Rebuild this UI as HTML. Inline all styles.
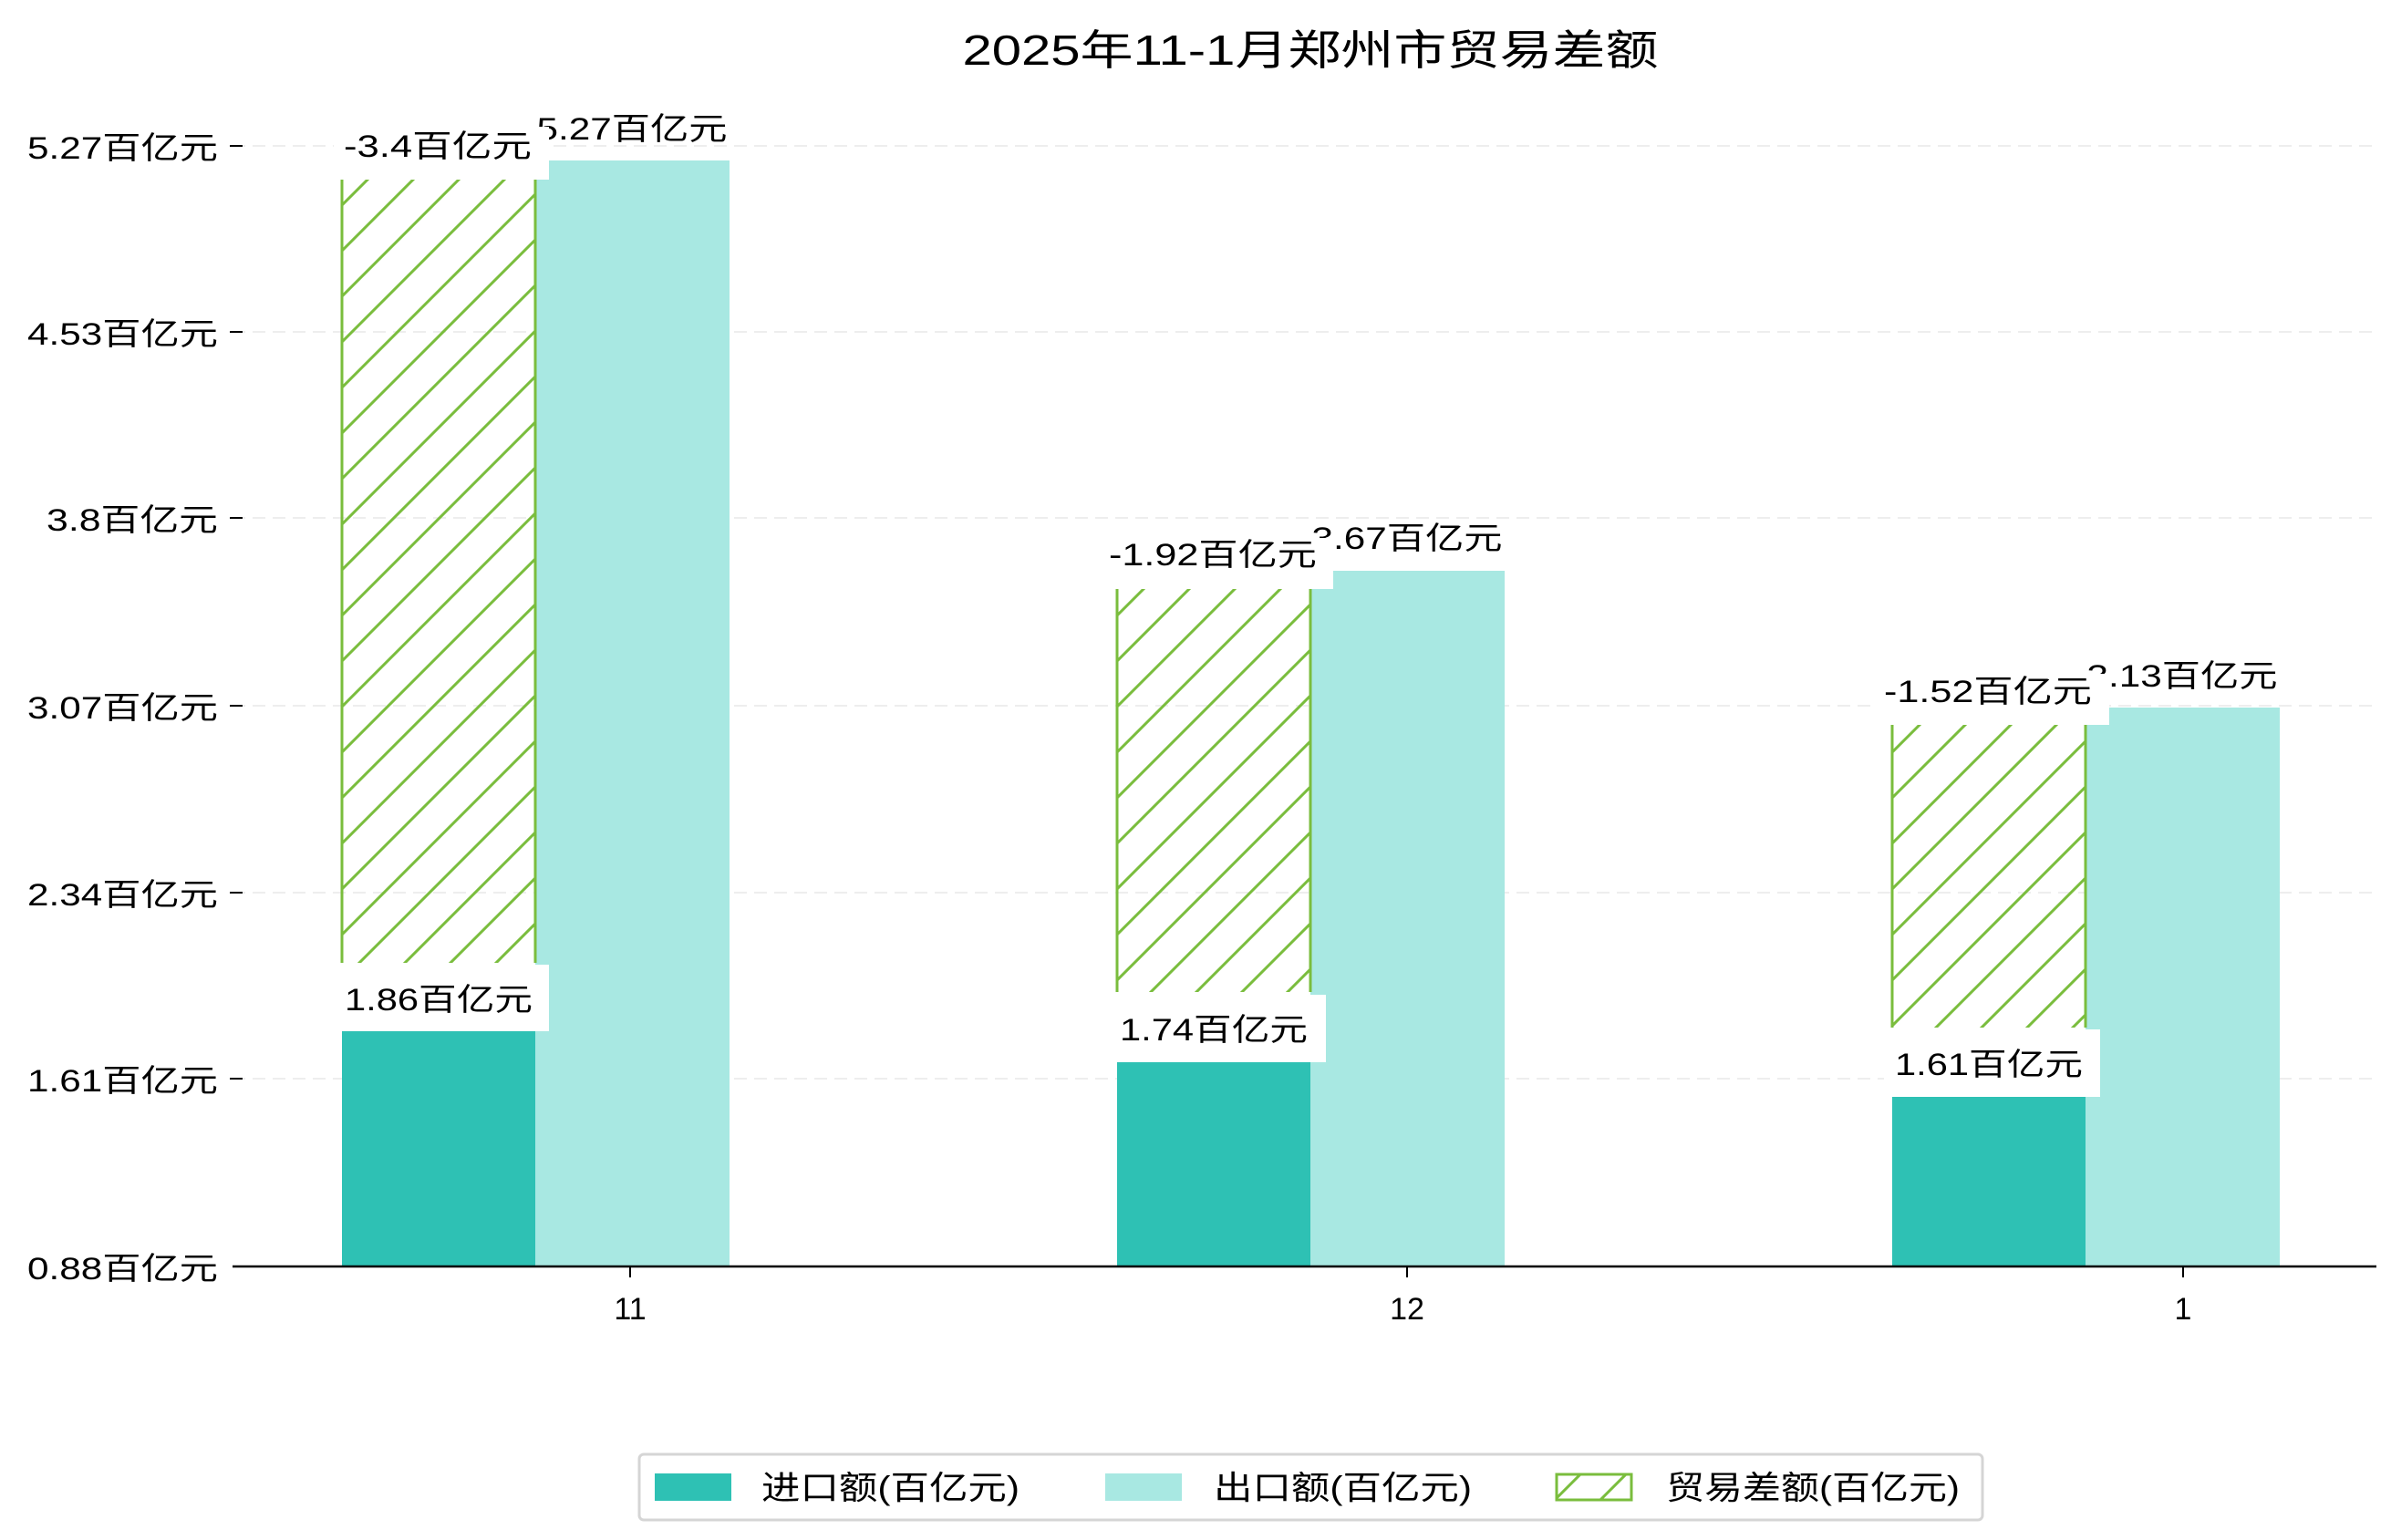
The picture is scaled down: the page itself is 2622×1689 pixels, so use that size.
<!DOCTYPE html>
<html><head><meta charset="utf-8"><style>
html,body{margin:0;padding:0;background:#fff;}
svg{display:block;}
text{font-family:"Liberation Sans","Noto Sans CJK SC",sans-serif;fill:#000;}
</style></head><body>
<svg width="2622" height="1689" viewBox="0 0 2622 1689" xmlns="http://www.w3.org/2000/svg">
<defs>
<pattern id="h" patternUnits="userSpaceOnUse" width="50" height="50">
<line x1="-5" y1="55" x2="55" y2="-5" stroke="#7abd3d" stroke-width="3"/>
<line x1="-30" y1="30" x2="30" y2="-30" stroke="#7abd3d" stroke-width="3"/>
<line x1="20" y1="80" x2="80" y2="20" stroke="#7abd3d" stroke-width="3"/>
</pattern>
</defs>
<text x="1437" y="71" font-size="46" text-anchor="middle" textLength="763" lengthAdjust="spacingAndGlyphs">2025年11-1月郑州市贸易差额</text>
<g stroke="#eeeeee" stroke-width="2" stroke-dasharray="14,8">
<line x1="255" y1="160" x2="2606" y2="160"/>
<line x1="255" y1="364" x2="2606" y2="364"/>
<line x1="255" y1="568" x2="2606" y2="568"/>
<line x1="255" y1="774" x2="2606" y2="774"/>
<line x1="255" y1="979" x2="2606" y2="979"/>
<line x1="255" y1="1183" x2="2606" y2="1183"/>
</g>
<g stroke="#000" stroke-width="2">
<line x1="252" y1="160" x2="266" y2="160"/>
<line x1="252" y1="364" x2="266" y2="364"/>
<line x1="252" y1="568" x2="266" y2="568"/>
<line x1="252" y1="774" x2="266" y2="774"/>
<line x1="252" y1="979" x2="266" y2="979"/>
<line x1="252" y1="1183" x2="266" y2="1183"/>
<line x1="691" y1="1389" x2="691" y2="1401"/>
<line x1="1543" y1="1389" x2="1543" y2="1401"/>
<line x1="2394" y1="1389" x2="2394" y2="1401"/>
</g>
<g font-size="34" text-anchor="end">
<text x="239" y="174" textLength="209" lengthAdjust="spacingAndGlyphs">5.27百亿元</text>
<text x="239" y="378" textLength="209" lengthAdjust="spacingAndGlyphs">4.53百亿元</text>
<text x="239" y="582" textLength="188" lengthAdjust="spacingAndGlyphs">3.8百亿元</text>
<text x="239" y="788" textLength="209" lengthAdjust="spacingAndGlyphs">3.07百亿元</text>
<text x="239" y="993" textLength="209" lengthAdjust="spacingAndGlyphs">2.34百亿元</text>
<text x="239" y="1197" textLength="209" lengthAdjust="spacingAndGlyphs">1.61百亿元</text>
<text x="239" y="1403" textLength="209" lengthAdjust="spacingAndGlyphs">0.88百亿元</text>
</g>
<g font-size="34" text-anchor="middle">
<text x="691" y="1447">11</text>
<text x="1543" y="1447">12</text>
<text x="2394" y="1447">1</text>
</g>
<rect x="375" y="1131" width="212" height="258" fill="#2ec1b4"/>
<rect x="1225" y="1165" width="212" height="224" fill="#2ec1b4"/>
<rect x="2075" y="1203" width="212" height="186" fill="#2ec1b4"/>
<rect x="587" y="176" width="213" height="1213" fill="#a8e8e2"/>
<rect x="1437" y="626" width="213" height="763" fill="#a8e8e2"/>
<rect x="2287" y="776" width="213" height="613" fill="#a8e8e2"/>
<rect x="375" y="197" width="212" height="859" fill="url(#h)"/>
<rect x="1225" y="646" width="212" height="442" fill="url(#h)"/>
<rect x="2075" y="795" width="212" height="332" fill="url(#h)"/>
<g stroke="#7abd3d" stroke-width="3">
<line x1="375" y1="197" x2="375" y2="1056"/><line x1="587" y1="197" x2="587" y2="1056"/>
<line x1="1225" y1="646" x2="1225" y2="1088"/><line x1="1437" y1="646" x2="1437" y2="1088"/>
<line x1="2075" y1="795" x2="2075" y2="1127"/><line x1="2287" y1="795" x2="2287" y2="1127"/>
</g>
<g font-size="34" text-anchor="middle">
<text x="693" y="153" textLength="209" lengthAdjust="spacingAndGlyphs">5.27百亿元</text>
<text x="1543" y="602" textLength="209" lengthAdjust="spacingAndGlyphs">3.67百亿元</text>
<text x="2393" y="753" textLength="209" lengthAdjust="spacingAndGlyphs">3.13百亿元</text>
<rect x="366" y="139" width="236" height="58" fill="#fff"/>
<text x="480" y="172" textLength="206" lengthAdjust="spacingAndGlyphs">-3.4百亿元</text>
<rect x="1207" y="590" width="255" height="56" fill="#fff"/>
<text x="1330" y="620" textLength="228" lengthAdjust="spacingAndGlyphs">-1.92百亿元</text>
<rect x="2058" y="739" width="255" height="56" fill="#fff"/>
<text x="2180" y="770" textLength="228" lengthAdjust="spacingAndGlyphs">-1.52百亿元</text>
<rect x="366" y="1058" width="236" height="73" fill="#fff"/>
<text x="481" y="1108" textLength="206" lengthAdjust="spacingAndGlyphs">1.86百亿元</text>
<rect x="1217" y="1091" width="237" height="74" fill="#fff"/>
<text x="1331" y="1141" textLength="206" lengthAdjust="spacingAndGlyphs">1.74百亿元</text>
<rect x="2066" y="1129" width="237" height="74" fill="#fff"/>
<text x="2181" y="1179" textLength="206" lengthAdjust="spacingAndGlyphs">1.61百亿元</text>
</g>
<line x1="255" y1="1389" x2="2606" y2="1389" stroke="#000" stroke-width="2.5"/>
<rect x="701" y="1595" width="1473" height="72" rx="5" fill="#fff" stroke="#d5d5d5" stroke-width="3"/>
<rect x="718" y="1616" width="84" height="30" fill="#2ec1b4"/>
<rect x="1212" y="1616" width="84" height="30" fill="#a8e8e2"/>
<rect x="1707" y="1617" width="82" height="28" fill="url(#h)" stroke="#7abd3d" stroke-width="3"/>
<g font-size="36">
<text x="835" y="1644" textLength="283" lengthAdjust="spacingAndGlyphs">进口额(百亿元)</text>
<text x="1331" y="1644" textLength="283" lengthAdjust="spacingAndGlyphs">出口额(百亿元)</text>
<text x="1827" y="1644" textLength="322" lengthAdjust="spacingAndGlyphs">贸易差额(百亿元)</text>
</g>
</svg>
</body></html>
